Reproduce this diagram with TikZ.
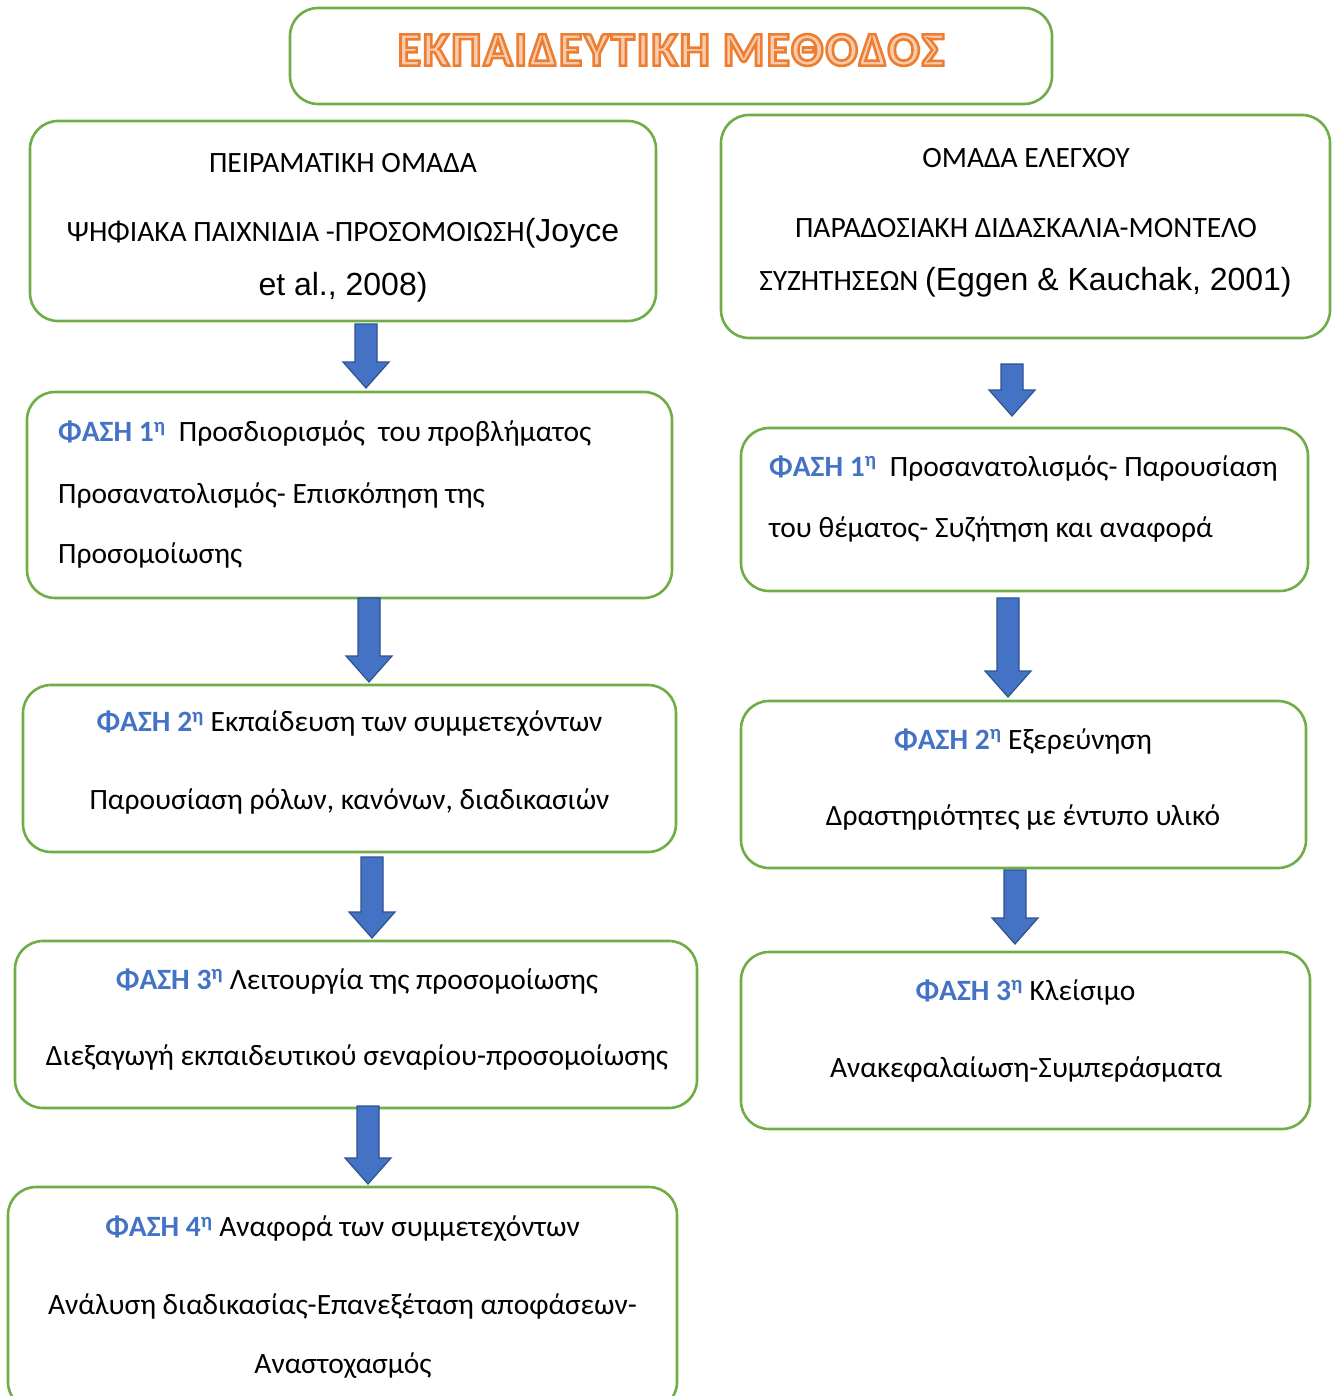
\documentclass[tikz,border=0pt]{standalone}
\usepackage{fontspec}
\setmainfont{Carlito}
\newfontfamily\arialfont{Liberation Sans}
\newfontfamily\titlefont[LetterSpace=4]{Carlito Bold}
\usepackage{tikz}
\usetikzlibrary{calc}
\definecolor{boxgreen}{HTML}{70AD47}
\definecolor{arrowblue}{HTML}{4472C4}
\definecolor{arrowedge}{HTML}{2F528F}
\definecolor{titlefill}{HTML}{F8CBAD}
\tikzstyle{greenbox}=[rectangle,draw=boxgreen,line width=2.6pt,
                      rounded corners=28pt,inner sep=0pt,outer sep=0pt]
\tikzstyle{bluearrow}=[fill=arrowblue,draw=arrowedge,line width=1.2pt,
                       line join=miter]
\tikzstyle{bodytext}=[inner sep=0pt,font=\fontsize{29.5}{34}\selectfont]
\tikzstyle{captext}=[inner sep=0pt,font=\fontsize{29.5}{34}\selectfont]
\newcommand{\phase}[1]{{\bfseries\color{arrowblue}ΦΑΣΗ #1\textsuperscript{η}}}
\newcommand{\refpart}[1]{{\arialfont\fontsize{32}{36}\selectfont #1}}
\newcommand{\outlined}[1]{%
  \special{pdf:literal direct 2 Tr 2.6 w 0.929 0.490 0.192 RG}%
  #1\special{pdf:literal direct 0 Tr 1 w 0 0 0 RG}}

\begin{document}
\begin{tikzpicture}[x=1pt,y=-1pt]
    \useasboundingbox (0,0) rectangle (1337,1396);
    \newcommand{\blockarrow}[5]{%
      \draw[bluearrow] let \p1=(#2.south), \p2=(#3.north) in
        (#1pt-11pt,\y1-#4pt) -- (#1pt+11pt,\y1-#4pt) -- (#1pt+11pt,\y2+#5pt+26pt)
        -- (#1pt+23pt,\y2+#5pt+26pt) -- (#1pt,\y2+#5pt) -- (#1pt-23pt,\y2+#5pt+26pt)
        -- (#1pt-11pt,\y2+#5pt+26pt) -- cycle;}
    % title
    \node (title) at (671,56) [greenbox,minimum width=762pt,minimum height=96pt]{};
    \node (titletext) at (671,50) [inner sep=0pt,text=titlefill,
      font=\titlefont\fontsize{48}{52}\selectfont]
      {\outlined{ΕΚΠΑΙΔΕΥΤΙΚΗ ΜΕΘΟΔΟΣ}};
    % left column
    \node (lg) at (343,221) [greenbox,minimum width=626pt,minimum height=200pt]{};
    \node (l1) at (349.5,495) [greenbox,minimum width=645pt,minimum height=206pt]{};
    \node (l2) at (349.5,768.5) [greenbox,minimum width=653pt,minimum height=167pt]{};
    \node (l3) at (356,1024.5) [greenbox,minimum width=682pt,minimum height=167pt]{};
    \node (l4) at (342.5,1298.5) [greenbox,minimum width=669pt,minimum height=223pt]{};
    % right column
    \node (rg) at (1025.5,226.5) [greenbox,minimum width=609pt,minimum height=223pt]{};
    \node (r1) at (1024.5,509.5) [greenbox,minimum width=567pt,minimum height=163pt]{};
    \node (r2) at (1023.5,784.5) [greenbox,minimum width=565pt,minimum height=167pt]{};
    \node (r3) at (1025.5,1040.5) [greenbox,minimum width=569pt,minimum height=177pt]{};
    % arrows
    \blockarrow{366}{lg}{l1}{3}{4}
    \blockarrow{369}{l1}{l2}{0}{3}
    \blockarrow{372}{l2}{l3}{5}{3}
    \blockarrow{368}{l3}{l4}{-2}{3}
    \blockarrow{1012}{rg}{r1}{26}{12}
    \blockarrow{1008}{r1}{r2}{7}{4}
    \blockarrow{1015}{r2}{r3}{2}{8}
    % texts, left
    \node (lga) at (343,163) [captext]{ΠΕΙΡΑΜΑΤΙΚΗ ΟΜΑΔΑ};
    \node (lgb) at (343,233) [captext]{ΨΗΦΙΑΚΑ ΠΑΙΧΝΙΔΙΑ -ΠΡΟΣΟΜΟΙΩΣΗ\refpart{(Joyce}};
    \node (lgc) at (343,287) [captext]{\refpart{et al., 2008)}};
    \node (l1a) at (58,434) [bodytext,anchor=west]{\phase{1}\ \ Προσδιορισμός\ \ του προβλήματος};
    \node (l1b) at (58,495) [bodytext,anchor=west]{Προσανατολισμός- Επισκόπηση της};
    \node (l1c) at (58,555) [bodytext,anchor=west]{Προσομοίωσης};
    \node (l2a) at (349.5,724) [bodytext]{\phase{2} Εκπαίδευση των συμμετεχόντων};
    \node (l2b) at (349.5,801) [bodytext]{Παρουσίαση ρόλων, κανόνων, διαδικασιών};
    \node (l3a) at (357,981) [bodytext]{\phase{3} Λειτουργία της προσομοίωσης};
    \node (l3b) at (357,1057) [bodytext]{Διεξαγωγή εκπαιδευτικού σεναρίου-προσομοίωσης};
    \node (l4a) at (342.5,1229) [bodytext]{\phase{4} Αναφορά των συμμετεχόντων};
    \node (l4b) at (342.5,1306) [bodytext]{Ανάλυση διαδικασίας-Επανεξέταση αποφάσεων-};
    \node (l4c) at (343,1366) [bodytext]{Αναστοχασμός};
    % texts, right
    \node (rga) at (1026,158) [captext]{ΟΜΑΔΑ ΕΛΕΓΧΟΥ};
    \node (rgb) at (1026,228) [captext]{ΠΑΡΑΔΟΣΙΑΚΗ ΔΙΔΑΣΚΑΛΙΑ-ΜΟΝΤΕΛΟ};
    \node (rgc) at (1025.5,282) [captext]{ΣΥΖΗΤΗΣΕΩΝ \refpart{(Eggen \& Kauchak, 2001)}};
    \node (r1a) at (769,468) [bodytext,anchor=west]{\phase{1}\ \ Προσανατολισμός- Παρουσίαση};
    \node (r1b) at (769,529) [bodytext,anchor=west]{του θέματος- Συζήτηση και αναφορά};
    \node (r2a) at (1023,741) [bodytext]{\phase{2} Εξερεύνηση};
    \node (r2b) at (1023,817) [bodytext]{Δραστηριότητες με έντυπο υλικό};
    \node (r3a) at (1025.5,992) [bodytext]{\phase{3} Κλείσιμο};
    \node (r3b) at (1026,1069) [bodytext]{Ανακεφαλαίωση-Συμπεράσματα};
  \end{tikzpicture}
\end{document}
